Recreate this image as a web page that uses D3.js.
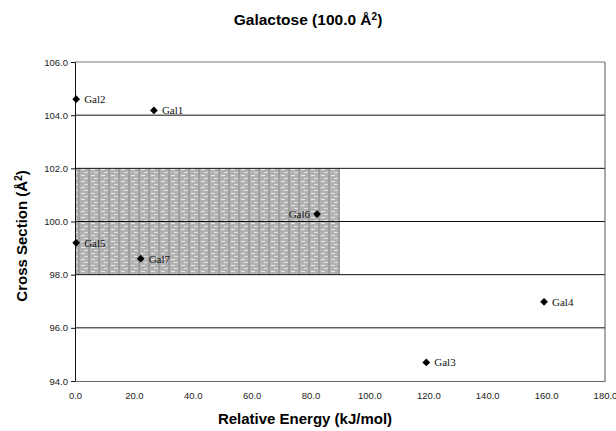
<!DOCTYPE html>
<html>
<head>
<meta charset="utf-8">
<script src="https://cdn.jsdelivr.net/npm/d3@7"></script>
<style>
  body { margin: 0; background: #fff; }
  svg text { font-family: "Liberation Sans", Arial, sans-serif; }
</style>
</head>
<body>
<div id="chart"></div>
<script>
// data
var names = ["Gal1", "Gal2", "Gal3", "Gal4", "Gal5", "Gal6", "Gal7"];
var energy = [26.8, 0.4, 119.3, 159.3, 0.4, 82.2, 22.3];
var section = [104.18, 104.6, 94.7, 96.98, 99.2, 100.28, 98.6];
var labelSide = ["right", "right", "right", "right", "right", "left", "right"];
var xTicks = [0, 20, 40, 60, 80, 100, 120, 140, 160, 180];
var yTicks = [94, 96, 98, 100, 102, 104, 106];
// shaded band: energy 0-90, cross section 98-102
var band = { x0: 0, x1: 90, y0: 98, y1: 102 };

var W = 616, H = 431;
var margin = { top: 62, right: 11, bottom: 50, left: 75 };

var svg = d3.select("#chart").append("svg")
  .attr("width", W).attr("height", H);

var x = d3.scaleLinear().domain([0, 180]).range([margin.left, W - margin.right]);
var y = d3.scaleLinear().domain([94, 106]).range([H - margin.bottom, margin.top]);

// texture for the band
var defs = svg.append("defs");
var pat = defs.append("pattern")
  .attr("id", "tex").attr("patternUnits", "userSpaceOnUse")
  .attr("width", 10).attr("height", 6);
pat.append("rect").attr("width", 10).attr("height", 6).attr("fill", "#b2b2b2");
pat.append("line").attr("x1", 1).attr("x2", 5).attr("y1", 1.5).attr("y2", 1.5)
  .attr("stroke", "#e8e8e8").attr("stroke-width", 1);
pat.append("line").attr("x1", 4).attr("x2", 8).attr("y1", 4.5).attr("y2", 4.5)
  .attr("stroke", "#dedede").attr("stroke-width", 1);
pat.append("line").attr("x1", 9).attr("x2", 9).attr("y1", 0).attr("y2", 6)
  .attr("stroke", "#909090").attr("stroke-width", 1.2);

svg.append("rect")
  .attr("x", x(band.x0)).attr("y", y(band.y1))
  .attr("width", x(band.x1) - x(band.x0))
  .attr("height", y(band.y0) - y(band.y1))
  .attr("fill", "url(#tex)");

// gridlines
svg.append("g").selectAll("line")
  .data(yTicks.filter(function (d) { return d > 94; }))
  .enter().append("line")
  .attr("x1", x(0)).attr("x2", x(180))
  .attr("y1", function (d) { return y(d); })
  .attr("y2", function (d) { return y(d); })
  .attr("stroke", function (d) { return d == 106 ? "#777" : "#111"; })
  .attr("stroke-width", 1);

// right border
svg.append("line")
  .attr("x1", x(180)).attr("x2", x(180))
  .attr("y1", y(106)).attr("y2", y(94))
  .attr("stroke", "#555");

// axes
var yAxis = d3.axisLeft(y).tickValues(yTicks).tickSize(4).tickFormat(d3.format(".1f"));
var gy = svg.append("g").attr("transform", "translate(" + x(0) + ",0)").call(yAxis);
gy.selectAll("text").attr("font-size", 9.5).attr("fill", "#222");
gy.selectAll("line, path").attr("stroke", "#111");

var xAxis = d3.axisBottom(x).tickValues(xTicks).tickSize(0).tickPadding(11).tickFormat(d3.format(".1f"));
var gx = svg.append("g").attr("transform", "translate(0," + y(94) + ")").call(xAxis);
gx.selectAll("text").attr("font-size", 9.5).attr("fill", "#222");
gx.select(".domain").attr("stroke", "#666");

// points
var pts = names.map(function (n, i) {
  return { name: n, e: energy[i], s: section[i], side: labelSide[i] };
});
svg.append("g").selectAll("path")
  .data(pts).enter().append("path")
  .attr("d", d3.symbol().type(d3.symbolSquare).size(30))
  .attr("transform", function (d) { return "translate(" + x(d.e) + "," + y(d.s) + ") rotate(45)"; })
  .attr("fill", "#000");

svg.append("g").selectAll("text")
  .data(pts).enter().append("text")
  .attr("x", function (d) { return x(d.e) + (d.side == "left" ? -7 : 8); })
  .attr("y", function (d) { return y(d.s) + 4; })
  .attr("text-anchor", function (d) { return d.side == "left" ? "end" : "start"; })
  .style("font-family", "'Liberation Serif', 'Times New Roman', serif")
  .attr("font-size", 11)
  .attr("fill", "#111")
  .text(function (d) { return d.name; });

// titles
svg.append("text")
  .attr("x", 308).attr("y", 25)
  .attr("text-anchor", "middle")
  .attr("font-size", 15.5).attr("font-weight", "bold")
  .html("Galactose (100.0 Å<tspan dy='-5' font-size='10'>2</tspan><tspan dy='5'>)</tspan>");

svg.append("text")
  .attr("x", 305).attr("y", 424)
  .attr("text-anchor", "middle")
  .attr("font-size", 15).attr("font-weight", "bold")
  .text("Relative Energy (kJ/mol)");

svg.append("text")
  .attr("transform", "translate(27,236) rotate(-90)")
  .attr("text-anchor", "middle")
  .attr("font-size", 15).attr("font-weight", "bold")
  .html("Cross Section (Å<tspan dy='-5' font-size='10'>2</tspan><tspan dy='5'>)</tspan>");
</script>
</body>
</html>
